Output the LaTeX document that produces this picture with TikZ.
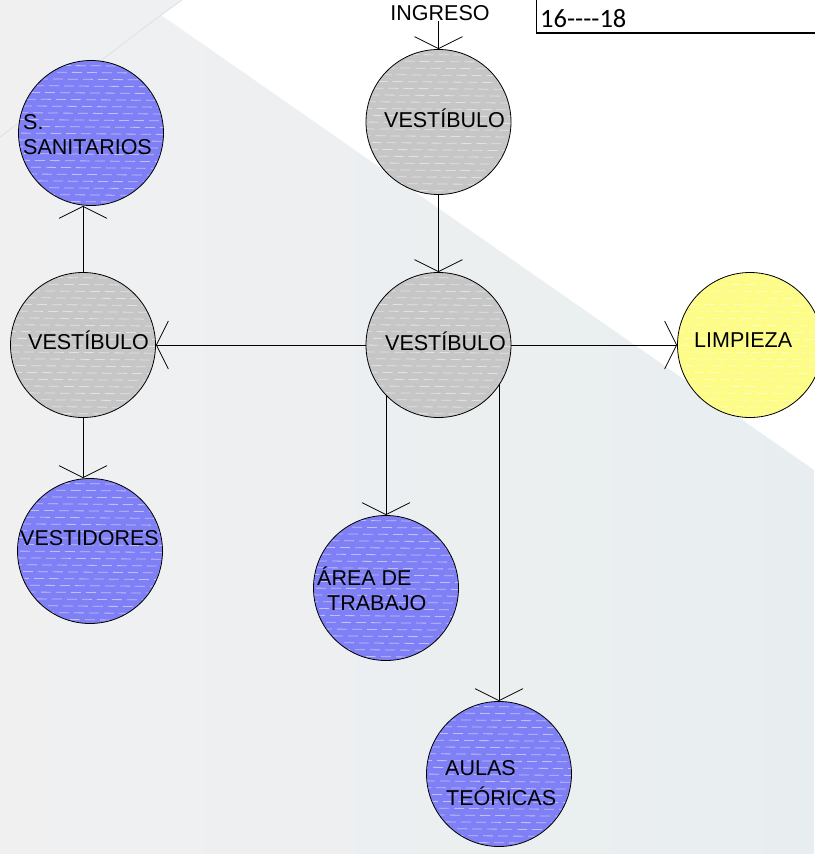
\documentclass[tikz,border=0pt]{standalone}
\usepackage{fontspec}
\setmainfont{Liberation Sans}
\newfontfamily\boxfont{Carlito}
\usetikzlibrary{arrows.meta}
\pgfdeclarelayer{backdrop}
\pgfdeclarelayer{links}
\pgfsetlayers{backdrop,links,main}

\definecolor{roomblue}{HTML}{8080F6}
\definecolor{roomgray}{HTML}{C6C6C6}
\definecolor{roomyellow}{HTML}{FCFC86}
\definecolor{paneA}{HTML}{F0F0F1}
\definecolor{paneB}{HTML}{E8EEF0}
\definecolor{paneline}{HTML}{E2E3E4}

\tikzset{
  room/.style={circle, draw=black, line width=0.8pt, minimum size=145pt, inner sep=0pt,
    path picture={
      \foreach \k [evaluate=\k as \ph using {mod(\k*41+410,15)}] in {-12,...,12}{
        \draw[white, opacity=0.5, line width=0.8pt, dash pattern=on 10pt off 5pt, dash phase=\ph pt]
          ([shift={(-80pt,\k*6.8pt)}]path picture bounding box.center) -- ++(160pt,-1.5pt);
      }
    }},
  lbl/.style={anchor=base west, inner sep=0pt, font=\fontsize{21.5}{25}\selectfont},
  arr/.style={line width=0.8pt, -{Straight Barb[length=12pt, width=48pt, line width=0.8pt]}}
}

\begin{document}
\begin{tikzpicture}[x=1pt, y=-1pt]
\useasboundingbox (0,0) rectangle (814,854);

% backdrop panes
\begin{pgfonlayer}{backdrop}
  \fill[white] (0,0) rectangle (814,854);
  \shade[left color=paneA, right color=paneB]
    (0,0) -- (182,0) -- (161,15) -- (814,470) -- (814,854) -- (0,854) -- cycle;
  \draw[paneline, line width=1pt] (182,0) -- (161,15) -- (0,137);
\end{pgfonlayer}

% rooms
\node[room, fill=roomgray]   (vtop)   at (438.5,122) {};
\node[room, fill=roomblue]   (ssan)   at (91,133)    {};
\node[room, fill=roomgray]   (vleft)  at (83,345)    {};
\node[room, fill=roomgray]   (vmid)   at (438.5,345) {};
\node[room, fill=roomyellow] (limp)   at (750,345)   {};
\node[room, fill=roomblue]   (vestid) at (90,551)    {};
\node[room, fill=roomblue]   (area)   at (386,588)   {};
\node[room, fill=roomblue]   (aulas)  at (499,774)   {};

% room names
\node[lbl] (tvtop)   at (384,127.7) {VESTÍBULO};
\node[lbl] (tssanA)  at (23,129.7)  {S.};
\node[lbl] (tssanB)  at (23,154.7)  {SANITARIOS};
\node[lbl] (tvleft)  at (28,349.7)  {VESTÍBULO};
\node[lbl] (tvmid)   at (385,350.7) {VESTÍBULO};
\node[lbl] (tlimp)   at (694,347.7) {LIMPIEZA};
\node[lbl] (tvestid) at (20,545.7)  {VESTIDORES};
\node[lbl] (tareaA)  at (317,585.7) {ÁREA DE};
\node[lbl] (tareaB)  at (327,610.7) {TRABAJO};
\node[lbl] (taulasA) at (445,775.7) {AULAS};
\node[lbl] (taulasB) at (446,805.7) {TEÓRICAS};

% entrance label and sheet tag
\node[lbl, anchor=base] (ingreso) at (440,20.7) {INGRESO};
\draw[line width=1.8pt] (536.5,-2) |- (816,33);
\node[anchor=base west, inner sep=0pt, font=\boxfont\fontsize{26.5}{30}\selectfont] (tag) at (540,27) {16----18};

% circulation links
\begin{pgfonlayer}{links}
  \draw[arr] (ingreso.south -| vtop.north) -- (vtop.north);
  \draw[arr] (vtop) -- (vmid);
  \draw[arr] (vmid) -- (vleft);
  \draw[arr] (vmid) -- (limp);
  \draw[arr] (vleft) -- (vleft |- ssan.south);
  \draw[arr] (vleft) -- (vleft |- vestid.north);
  \draw[arr] (area |- vmid) -- (area.north);
  \draw[arr] (aulas |- vmid) -- (aulas.north);
\end{pgfonlayer}
\end{tikzpicture}
\end{document}
